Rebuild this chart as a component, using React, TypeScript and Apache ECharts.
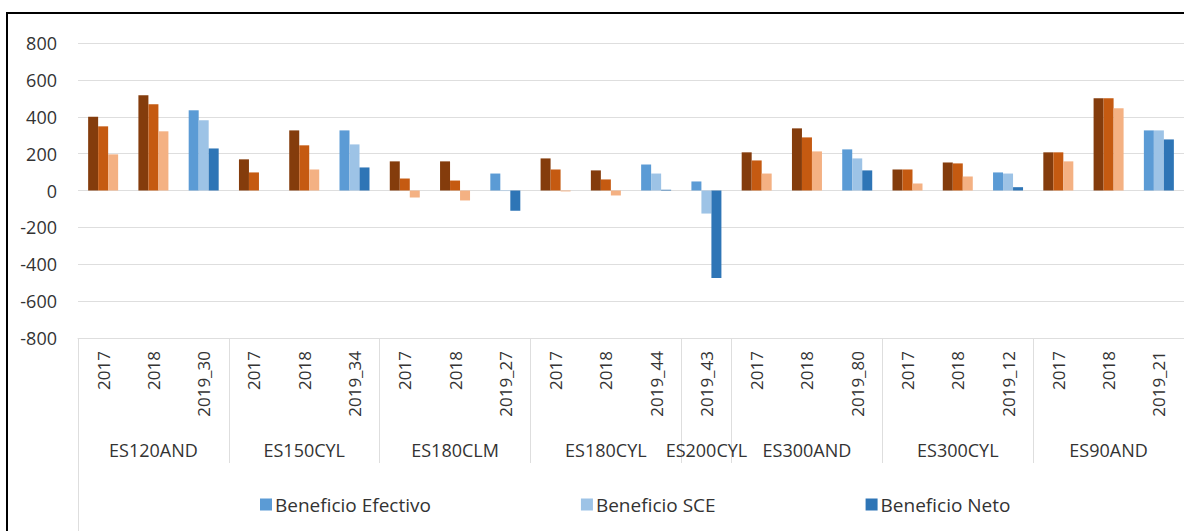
import React, { useEffect, useRef } from "react";
import * as echarts from "echarts";

const groupNames = ["ES120AND", "ES150CYL", "ES180CLM", "ES180CYL", "ES200CYL", "ES300AND", "ES300CYL", "ES90AND"];
const groupSubLabels = [
  ["2017", "2018", "2019_30"],
  ["2017", "2018", "2019_34"],
  ["2017", "2018", "2019_27"],
  ["2017", "2018", "2019_44"],
  ["2019_43"],
  ["2017", "2018", "2019_80"],
  ["2017", "2018", "2019_12"],
  ["2017", "2018", "2019_21"],
];
const seriesNames = ["Beneficio Efectivo", "Beneficio SCE", "Beneficio Neto"];
const efectivo = [400, 517, 435, 169, 326, 326, 158, 158, 92, 174, 109, 141, 49, 207, 337, 223, 114, 152, 98, 207, 501, 326];
const sce = [348, 468, 381, 98, 245, 250, 65, 54, -3, 114, 60, 92, -125, 163, 288, 174, 114, 147, 92, 207, 501, 326];
const neto = [196, 321, 228, 0, 114, 125, -38, -54, -110, -5, -27, 4, -475, 92, 212, 109, 38, 76, 18, 158, 446, 277];
const yTicks = { min: -800, max: 800, interval: 200 };

const blueColors = ["#5B9BD5", "#9DC3E6", "#2E75B6"];
const brownColors = ["#843C0C", "#C55A11", "#F4B183"];
const FONT = "Open Sans";
const TEXT = "#333333";
const GRIDC = "#DEDEDE";

export default function App() {
  const ref = useRef<HTMLDivElement>(null);
  useEffect(() => {
    if (!ref.current) return;
    const chart = echarts.init(ref.current, undefined, { renderer: "svg" });

    const subLabels: string[] = [];
    const groupLabelData: string[] = [];
    const groupStarts = new Set<number>();
    groupSubLabels.forEach((subs, g) => {
      groupStarts.add(subLabels.length);
      const mid = Math.floor((subs.length - 1) / 2);
      subs.forEach((s, i) => {
        subLabels.push(s);
        groupLabelData.push(i === mid ? groupNames[g] : "");
      });
    });

    const allValues = [efectivo, sce, neto];
    const series = allValues.map((vals, si) => ({
      name: seriesNames[si],
      type: "bar",
      barWidth: 10,
      barGap: "0%",
      itemStyle: { color: blueColors[si] },
      data: vals.map((v, i) => ({
        value: v,
        itemStyle: { color: subLabels[i].startsWith("2019") ? blueColors[si] : brownColors[si] },
      })),
    }));

    chart.setOption({
      animation: false,
      backgroundColor: "#ffffff",
      textStyle: { fontFamily: FONT },
      grid: { left: 78, top: 43, width: 1108, height: 295, containLabel: false },
      legend: {
        data: seriesNames,
        left: 255,
        top: 490,
        icon: "rect",
        itemWidth: 12,
        itemHeight: 12,
        itemGap: 150,
        textStyle: { fontFamily: FONT, fontSize: 19, color: TEXT, padding: [0, 0, 0, -2] },
      },
      xAxis: [
        {
          type: "category",
          data: subLabels,
          position: "bottom",
          axisLine: { show: true, onZero: false, lineStyle: { color: GRIDC } },
          axisTick: {
            show: true,
            length: 125,
            interval: (index: number) => groupStarts.has(index),
            lineStyle: { color: GRIDC },
          },
          axisLabel: { rotate: 90, margin: 13, fontSize: 17, color: TEXT, fontFamily: FONT, interval: 0 },
          splitLine: { show: false },
        },
        {
          type: "category",
          data: groupLabelData,
          position: "bottom",
          offset: 98,
          axisLine: { show: false },
          axisTick: { show: false },
          axisLabel: { margin: 5, fontSize: 18, color: TEXT, fontFamily: FONT, interval: 0 },
          splitLine: { show: false },
        },
      ],
      yAxis: {
        type: "value",
        min: yTicks.min,
        max: yTicks.max,
        interval: yTicks.interval,
        axisLine: { show: false },
        axisTick: { show: false },
        axisLabel: { margin: 21, fontSize: 18, color: TEXT, fontFamily: FONT },
        splitLine: { lineStyle: { color: GRIDC, width: 1 } },
      },
      graphic: [
        {
          type: "rect",
          shape: { x: 7, y: 13, width: 1240, height: 600 },
          style: { fill: "none", stroke: "#000000", lineWidth: 2 },
          silent: true,
        },
        {
          type: "line",
          shape: { x1: 78.5, y1: 462, x2: 78.5, y2: 531 },
          style: { stroke: GRIDC, lineWidth: 1 },
          silent: true,
        },
      ],
      series,
    });
    return () => chart.dispose();
  }, []);
  return (
    <div
      ref={ref}
      style={{ position: "absolute", left: 0, top: 0, width: 1184, height: 531, background: "#fff" }}
    />
  );
}
